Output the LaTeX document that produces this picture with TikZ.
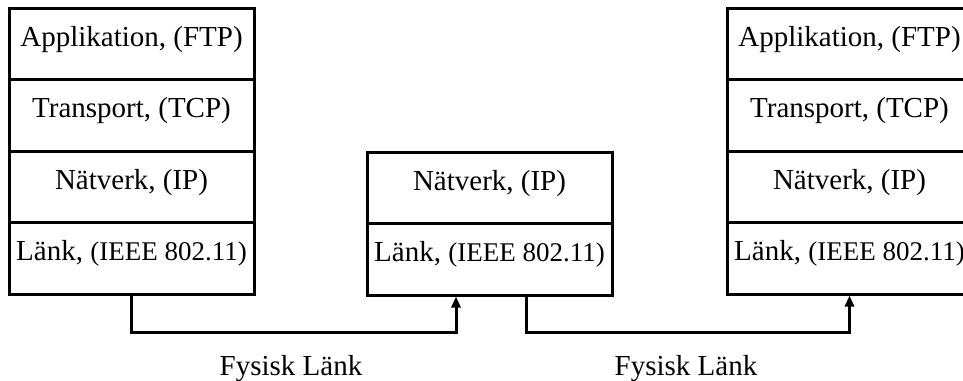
\documentclass[tikz,border=0pt]{standalone}
\usepackage{fontspec}
\setmainfont{Liberation Serif}
\usetikzlibrary{arrows.meta}
\begin{document}
\begin{tikzpicture}[x=1pt,y=-1pt,
  layer/.style={draw=black,line width=3pt,minimum width=245pt,minimum height=71.5pt,
    inner sep=0pt,text height=0.75em,text depth=0.25em,
    font=\fontsize{29}{34}\selectfont},
  wire/.style={draw=black,line width=3pt},
  arr/.style={wire,-{Triangle[length=11pt,width=9pt]}},
  lbl/.style={anchor=base,font=\fontsize{29}{34}\selectfont}]
\newcommand{\smallpar}[1]{{\fontsize{27}{32}\selectfont #1}}
\useasboundingbox (0,0) rectangle (963,380);
\clip (0,0) rectangle (963,380);
% left host stack
\node[layer] (L1) at (131.5,43.75) {Applikation, (FTP)};
\node[layer] (L2) at (131.5,115.25) {Transport, (TCP)};
\node[layer] (L3) at (131.5,186.75) {Nätverk, (IP)};
\node[layer] (L4) at (131.5,258.25) {Länk, \smallpar{(IEEE 802.11)}};
% router in the middle
\node[layer] (M1) at (489.5,187.75) {Nätverk, (IP)};
\node[layer] (M2) at (489.5,259.25) {Länk, \smallpar{(IEEE 802.11)}};
% right host stack
\node[layer] (R1) at (849.5,43.75) {Applikation, (FTP)};
\node[layer] (R2) at (849.5,115.25) {Transport, (TCP)};
\node[layer] (R3) at (849.5,186.75) {Nätverk, (IP)};
\node[layer] (R4) at (849.5,258.25) {Länk, \smallpar{(IEEE 802.11)}};
% physical links
\draw[arr] (L4.south) -- ++(0,37) -| ([xshift=-33.5pt]M2.south);
\draw[arr] ([xshift=36.5pt]M2.south) -- ++(0,36) -| (R4.south);
\node[lbl] (F1) at (291,375) {Fysisk Länk};
\node[lbl] (F2) at (686,375) {Fysisk Länk};
\end{tikzpicture}
\end{document}
